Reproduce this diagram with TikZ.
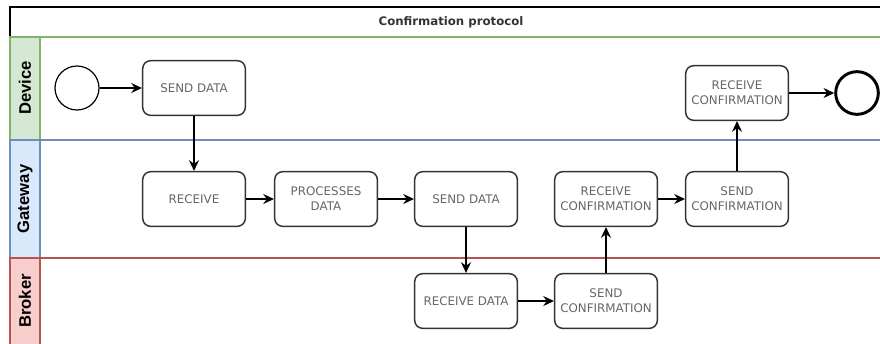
\documentclass[tikz,border=0pt]{standalone}
\usepackage{fontspec}
\setmainfont{DejaVu Sans}
\newfontfamily\lanefont{Liberation Sans}
\usetikzlibrary{arrows.meta}
\definecolor{devfill}{HTML}{D5E8D4}
\definecolor{devline}{HTML}{82B366}
\definecolor{gwfill}{HTML}{DAE8FC}
\definecolor{gwline}{HTML}{6C8EBF}
\definecolor{brkfill}{HTML}{F8CECC}
\definecolor{brkline}{HTML}{B85450}
\definecolor{boxline}{HTML}{333333}
\definecolor{boxtext}{HTML}{666666}
\begin{document}
\begin{tikzpicture}[x=0.75pt, y=-0.75pt, >={Stealth[length=8pt,width=7.5pt]},
    task/.style={draw=boxline, line width=1.1pt, rounded corners=6pt, minimum width=77pt,
      minimum height=41pt, text=boxtext, align=center, font=\fontsize{8.9}{11.2}\selectfont},
    startev/.style={circle, draw=black, line width=0.9pt, minimum size=33pt, inner sep=0pt},
    endev/.style={circle, draw=black, line width=2.2pt, minimum size=32pt, inner sep=0pt},
    flow/.style={->, line width=1.1pt},
    lanelabel/.style={rotate=90, font=\lanefont\bfseries\fontsize{12.5}{14}\selectfont}]
  \useasboundingbox (0,0) rectangle (880,343);
  % pool and lanes
  \fill[devfill] (10,37) rectangle (40,140);
  \fill[gwfill] (10,140) rectangle (40,258);
  \fill[brkfill] (10,258) rectangle (40,350);
  \draw[line width=1.6pt] (890,7) -- (10,7) -- (10,37);
  \draw[devline, line width=1pt] (890,37) -- (10,37) -- (10,140) -- (890,140) (40,37) -- (40,140);
  \draw[gwline, line width=1pt] (890,140) -- (10,140) -- (10,258) -- (890,258) (40,140) -- (40,258);
  \draw[brkline, line width=1pt] (890,258) -- (10,258) -- (10,350) (40,258) -- (40,350);
  \node[font=\bfseries\fontsize{8.8}{10}\selectfont, text=black!80] (title) at (451,22) {Confirmation protocol};
  \node[lanelabel] (devlbl) at (25,88) {Device};
  \node[lanelabel] (gwlbl) at (25,199) {Gateway};
  \node[lanelabel] (brklbl) at (25,301) {Broker};
  % device lane
  \node[startev] (start) at (77,88) {};
  \node[task] (devsend) at (194,88) {SEND DATA};
  \node[task] (devrecconf) at (737,93) {RECEIVE\\CONFIRMATION};
  \node[endev] (stop) at (857,93) {};
  % gateway lane
  \node[task] (gwrec) at (194,199) {RECEIVE};
  \node[task] (gwproc) at (326,199) {PROCESSES\\DATA};
  \node[task] (gwsend) at (466,199) {SEND DATA};
  \node[task] (gwrecconf) at (606,199) {RECEIVE\\CONFIRMATION};
  \node[task] (gwsendconf) at (737,199) {SEND\\CONFIRMATION};
  % broker lane
  \node[task] (brkrec) at (466,301) {RECEIVE DATA};
  \node[task] (brksendconf) at (606,301) {SEND\\CONFIRMATION};
  % flows
  \draw[flow] (start) -- (devsend);
  \draw[flow] (devsend) -- (gwrec);
  \draw[flow] (gwrec) -- (gwproc);
  \draw[flow] (gwproc) -- (gwsend);
  \draw[flow] (gwsend) -- (brkrec);
  \draw[flow] (brkrec) -- (brksendconf);
  \draw[flow] (brksendconf) -- (gwrecconf);
  \draw[flow] (gwrecconf) -- (gwsendconf);
  \draw[flow] (gwsendconf) -- (devrecconf);
  \draw[flow] (devrecconf) -- (stop);
\end{tikzpicture}
\end{document}
